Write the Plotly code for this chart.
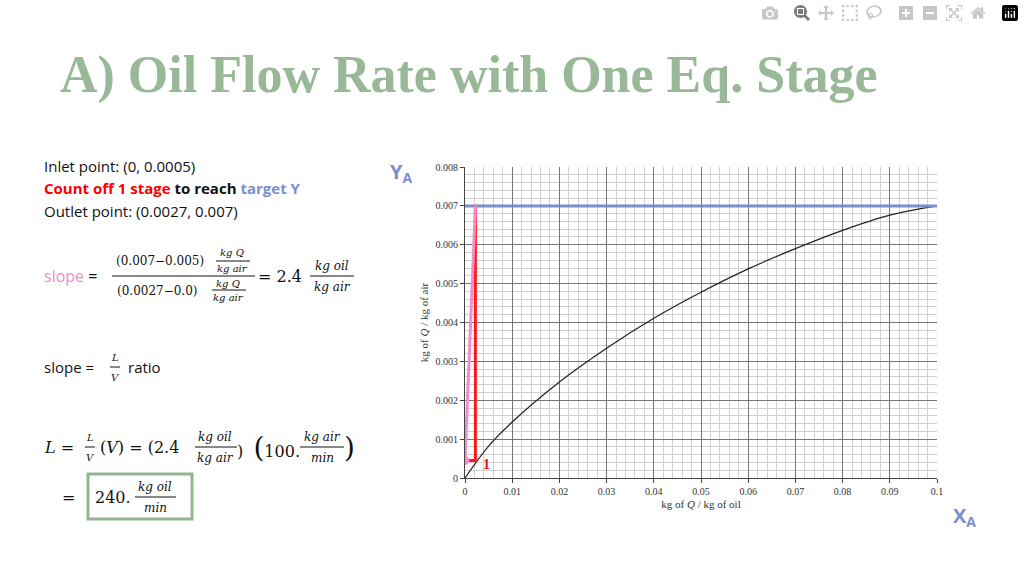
import numpy as np
import plotly.graph_objects as go

# equilibrium curve
eq_x = [0, 0.005, 0.01, 0.02, 0.03, 0.04, 0.05, 0.06, 0.07, 0.08, 0.09, 0.1]
eq_y = [0, 0.00082, 0.00144, 0.00247, 0.00334, 0.00411, 0.00478, 0.00538, 0.0059, 0.00637, 0.00676, 0.007]

# operating line and stage step
op_x = [0, 0.0022]
op_y = [0.00045, 0.007]
step_x = [0, 0.0022, 0.0022]
step_y = [0.00045, 0.00045, 0.007]
target_y = 0.007

fig = go.Figure()
fig.add_trace(go.Scatter(x=eq_x, y=eq_y, mode="lines", line=dict(color="#222", width=1.2, shape="spline", smoothing=1)))
fig.add_trace(go.Scatter(x=[0, 0.1], y=[target_y, target_y], mode="lines", line=dict(color="#7b8fce", width=3)))
fig.add_trace(go.Scatter(x=step_x, y=step_y, mode="lines", line=dict(color="#ff1a1a", width=3)))
fig.add_trace(go.Scatter(x=op_x, y=op_y, mode="lines", line=dict(color="#f48cc8", width=3)))
fig.add_trace(go.Scatter(x=[0], y=[0.00045], mode="markers", marker=dict(color="#f48cc8", size=9)))
fig.add_annotation(x=0.0045, y=0.00035, text="<b>1</b>", showarrow=False,
                   font=dict(family="Liberation Serif", size=14, color="#e01010"))

axis_common = dict(showline=True, linecolor="#444", ticks="outside", ticklen=4,
                   gridcolor="#777", gridwidth=1, zeroline=False, automargin=False,
                   tickfont=dict(family="Liberation Serif", size=10, color="#333"),
                   minor=dict(showgrid=True, gridcolor="#d0d0d0", gridwidth=1))
fig.update_xaxes(range=[0, 0.1], dtick=0.01, tickformat="~g", domain=[465 / 1024, 937 / 1024],
                 title=dict(text="kg of <i>Q</i> / kg of oil", font=dict(family="Liberation Serif", size=11, color="#333"), standoff=4),
                 minor_dtick=0.002, **axis_common)
fig.update_yaxes(range=[0, 0.008], domain=[1 - 478 / 576, 1 - 167 / 576],
                 title=dict(text="kg of <i>Q</i> / kg of air", font=dict(family="Liberation Serif", size=11, color="#333"), standoff=4),
                 minor_dtick=0.0002, **axis_common)
fig.update_yaxes(tickvals=[0, 0.001, 0.002, 0.003, 0.004, 0.005, 0.006, 0.007, 0.008],
                 ticktext=["0", "0.001", "0.002", "0.003", "0.004", "0.005", "0.006", "0.007", "0.008"])

def txt(x, y, s, size=15, color="#111", family="Open Sans", anchor="left"):
    fig.add_annotation(xref="paper", yref="paper", x=x, y=y, text=s, showarrow=False,
                       xanchor=anchor, yanchor="middle", font=dict(family=family, size=size, color=color))

def hline(x0, x1, y, color="#111", width=1):
    fig.add_shape(type="line", xref="paper", yref="paper", x0=x0, x1=x1, y0=y, y1=y,
                  line=dict(color=color, width=width))

def py(p):
    return 1 - p / 576

def px(p):
    return p / 1024

serif = "DejaVu Serif"
txt(px(58), py(75), "<b>A) Oil Flow Rate with One Eq. Stage</b>", size=52, color="#98b898", family="Liberation Serif")
txt(px(42), py(166), "Inlet point: (0, 0.0005)")
txt(px(42), py(188), "<b><span style='color:#ff0000'>Count off 1 stage</span> to reach <span style='color:#7b8fce'>target Y</span></b>")
txt(px(42), py(211), "Outlet point: (0.0027, 0.007)")
txt(px(388), py(172), "<b>Y<sub>A</sub></b>", size=20, color="#7b8fce")
txt(px(951), py(516), "<b>X<sub>A</sub></b>", size=20, color="#7b8fce")

# slope equation
txt(px(42), py(276), "<span style='color:#f08cc8'>slope</span> =", size=16)
txt(px(114), py(261), "(0.007−0.005)", size=12, family=serif)
txt(px(115), py(291), "(0.0027−0.0)", size=12, family=serif)
hline(px(112), px(255), py(276))
txt(px(232), py(252), "<i>kg Q</i>", size=10, family=serif, anchor="center")
hline(px(216), px(250), py(261))
txt(px(232), py(268), "<i>kg air</i>", size=10, family=serif, anchor="center")
txt(px(228), py(283), "<i>kg Q</i>", size=10, family=serif, anchor="center")
hline(px(212), px(246), py(290))
txt(px(228), py(297), "<i>kg air</i>", size=10, family=serif, anchor="center")
txt(px(256), py(276), "= 2.4", size=16, family=serif)
txt(px(332), py(266), "<i>kg oil</i>", size=12, family=serif, anchor="center")
hline(px(310), px(354), py(276))
txt(px(332), py(287), "<i>kg air</i>", size=12, family=serif, anchor="center")

# slope = L/V
txt(px(42), py(367), "slope =", size=15)
txt(px(115), py(357), "<i>L</i>", size=10, family=serif, anchor="center")
hline(px(110), px(120), py(367))
txt(px(115), py(377), "<i>V</i>", size=10, family=serif, anchor="center")
txt(px(126), py(367), "ratio", size=15)

# L equation
txt(px(42), py(447), "<i>L</i> =", size=16, family=serif)
txt(px(90), py(437), "<i>L</i>", size=10, family=serif, anchor="center")
hline(px(85), px(95), py(447))
txt(px(90), py(457), "<i>V</i>", size=10, family=serif, anchor="center")
txt(px(98), py(447), "(<i>V</i>) = (2.4", size=16, family=serif)
txt(px(215), py(437), "<i>kg oil</i>", size=12, family=serif, anchor="center")
hline(px(195), px(237), py(447))
txt(px(215), py(458), "<i>kg air</i>", size=12, family=serif, anchor="center")
txt(px(235), py(447), ")  <span style='font-size:28px'>(</span>100.", size=16, family=serif)
txt(px(322), py(437), "<i>kg air</i>", size=12, family=serif, anchor="center")
hline(px(300), px(344), py(447))
txt(px(322), py(458), "<i>min</i>", size=12, family=serif, anchor="center")
txt(px(342), py(447), "<span style='font-size:28px'>)</span>", size=16, family=serif)

txt(px(60), py(497), "=", size=16, family=serif)
fig.add_shape(type="rect", xref="paper", yref="paper", x0=px(88), x1=px(192), y0=py(474), y1=py(519),
              line=dict(color="#8fb68f", width=3))
txt(px(93), py(497), "240.", size=16, family=serif)
txt(px(155), py(487), "<i>kg oil</i>", size=12, family=serif, anchor="center")
hline(px(135), px(176), py(497))
txt(px(155), py(508), "<i>min</i>", size=12, family=serif, anchor="center")

fig.update_layout(width=1024, height=576, margin=dict(l=0, r=0, t=0, b=0),
                  paper_bgcolor="white", plot_bgcolor="white", showlegend=False)
fig.write_html("out.html", post_script="document.body.style.margin='0';document.body.style.overflow='hidden';")
